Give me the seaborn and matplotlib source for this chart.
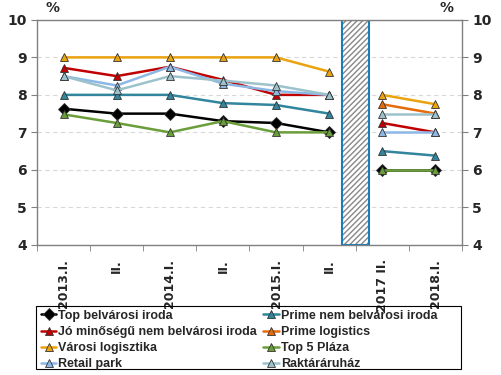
import pandas as pd
import seaborn as sns
import matplotlib.pyplot as plt
import numpy as np
from matplotlib.patches import Rectangle

# categories (x axis), gap between 2015.II. and 2017 II. marked by a hatched bar
periods = ['2013.I.', 'II.', '2014.I.', 'II.', '2015.I.', 'II.', '2017 II.', '2018.I.']
segment = [0, 0, 0, 0, 0, 0, 1, 1]

series_names = ['Top belvárosi iroda', 'Prime nem belvárosi iroda',
                'Jó minőségű nem belvárosi iroda', 'Prime logistics',
                'Városi logisztika', 'Top 5 Pláza', 'Retail park', 'Raktáráruház']

top_belvarosi = [7.63, 7.5, 7.5, 7.3, 7.25, 7.0, 6.0, 6.0]
prime_nem_belv = [8.0, 8.0, 8.0, 7.78, 7.73, 7.5, 6.5, 6.38]
jo_minosegu = [8.72, 8.5, 8.75, 8.4, 8.0, 8.0, 7.25, 7.0]
prime_logistics = [None, None, None, None, None, None, 7.75, 7.5]
varosi_log = [9.0, 9.0, 9.0, 9.0, 9.0, 8.62, 8.0, 7.75]
top5_plaza = [7.48, 7.25, 7.0, 7.3, 7.0, 7.0, 6.0, 6.0]
retail_park = [8.5, 8.25, 8.75, 8.3, 8.1, 8.0, 7.0, 7.0]
raktaraaruhaz = [8.5, 8.12, 8.5, 8.38, 8.25, 8.0, 7.5, 7.5]

all_values = [top_belvarosi, prime_nem_belv, jo_minosegu, prime_logistics,
              varosi_log, top5_plaza, retail_park, raktaraaruhaz]

colors = ['#000000', '#31859C', '#C00000', '#E46C0A',
          '#EBA20F', '#6A9E3A', '#8DB8E6', '#9CC2CC']
markers = ['D', '^', '^', '^', '^', '^', '^', '^']

rows = []
for name, vals in zip(series_names, all_values):
    for i, v in enumerate(vals):
        if v is not None:
            rows.append({'x': i, 'value': v, 'series': name, 'seg': segment[i]})
df = pd.DataFrame(rows)

sns.set_style('white')
plt.rcParams['font.family'] = ['DejaVu Sans']

fig = plt.figure(figsize=(5.01, 3.75), dpi=100)
ax = fig.add_axes([0.074, 0.347, 0.848, 0.6])

# hatched gap bar
gap = segment.index(1) - 0.5
ax.bar(gap, 6, bottom=4, width=0.5, color='white', edgecolor='#888888',
       hatch='//////', linewidth=0, zorder=1)
ax.bar(gap, 6, bottom=4, width=0.5, fill=False, edgecolor='#1A7DB8',
       linewidth=1.5, zorder=1)

sns.lineplot(data=df, x='x', y='value', hue='series', style='series',
             units='seg', estimator=None, hue_order=series_names,
             style_order=series_names,
             palette=dict(zip(series_names, colors)),
             markers=dict(zip(series_names, markers)),
             dashes=False, linewidth=1.8, markersize=6,
             markeredgecolor='#333333', markeredgewidth=0.6,
             ax=ax, zorder=3)

ax.set_xlim(-0.5, len(periods) - 0.5)
ax.set_ylim(4, 10)
ax.set_yticks(range(4, 11))
ax.set_xticks(range(len(periods)))
ax.set_xticklabels(periods, rotation=90, fontweight='bold', fontsize=9)
ax.set_xticks(np.arange(-0.5, len(periods)), minor=True)
ax.tick_params(axis='x', which='major', length=0, pad=10)
ax.tick_params(axis='x', which='minor', length=4, color='#808080', direction='out', bottom=True)
ax.tick_params(axis='y', which='major', length=4, color='#808080', direction='out',
               left=True, right=True, labelleft=True, labelright=True, labelsize=10)
for lab in ax.get_yticklabels():
    lab.set_fontweight('bold')
ax.set_xlabel('')
ax.set_ylabel('')

ax.yaxis.grid(True, linestyle=(0, (4, 3)), color='#D9D9D9', linewidth=0.8)
ax.set_axisbelow(True)
for sp in ax.spines.values():
    sp.set_color('#808080')
    sp.set_linewidth(1)

ax.text(0.02, 1.02, '%', transform=ax.transAxes, fontsize=10, fontweight='bold', ha='left', va='bottom')
ax.text(0.98, 1.02, '%', transform=ax.transAxes, fontsize=10, fontweight='bold', ha='right', va='bottom')

handles, labels = ax.get_legend_handles_labels()
order = [0, 2, 4, 6, 1, 3, 5, 7]
ax.get_legend().remove()
leg = fig.legend([handles[i] for i in order], [labels[i] for i in order],
                 ncol=2, loc='upper left', bbox_to_anchor=(0.074, 0.184),
                 frameon=False, borderaxespad=0, handlelength=1.25, handletextpad=0.15,
                 columnspacing=0.5, labelspacing=0.33, borderpad=0.3,
                 prop={'family': 'Liberation Sans', 'weight': 'bold', 'size': 9})
# legend frame spanning the plot width
fig.patches.append(Rectangle((0.072, 0.016), 0.848, 0.168, transform=fig.transFigure,
                             fill=False, edgecolor='#000000', linewidth=0.8))

fig.savefig('out.png', dpi=100)
